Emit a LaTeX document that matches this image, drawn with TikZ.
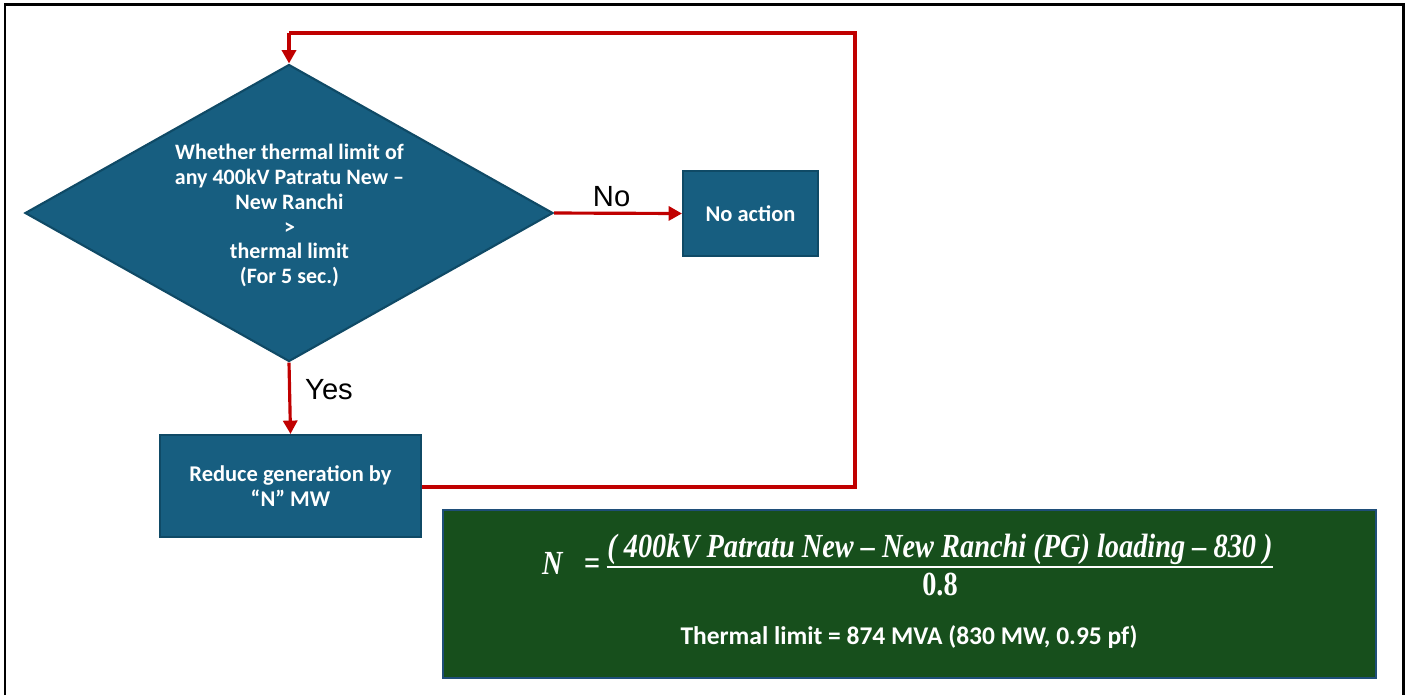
\documentclass[tikz,border=0pt]{standalone}
\usepackage{fontspec}
\usetikzlibrary{shapes.geometric,arrows.meta}
\setmainfont{Carlito}
\newfontfamily\labfont{Liberation Sans}
\newfontfamily\eqfont[FakeStretch=0.84]{Liberation Serif}
\definecolor{boxblue}{HTML}{175E80}
\definecolor{boxedge}{HTML}{0F4A66}
\definecolor{eqgreen}{HTML}{174F1C}
\definecolor{eqedge}{HTML}{1F4E79}
\definecolor{flowred}{HTML}{C00000}
\tikzset{
  blk/.style={draw=boxedge, line width=0.6pt, fill=boxblue, text=white, font=\bfseries\fontsize{6.4}{7.1}\selectfont, align=center, inner sep=0pt},
  flow/.style={draw=flowred, line width=0.9pt, -{Triangle[length=3.8pt,width=4pt]}},
  flowline/.style={draw=flowred, line width=0.9pt},
  lab/.style={font=\labfont\fontsize{8.3}{10}\selectfont, text=black, inner sep=0pt},
  eqtxt/.style={text=white, inner sep=0pt, font=\eqfont\bfseries\itshape\fontsize{9.6}{11}\selectfont}
}
\begin{document}
\begin{tikzpicture}[x=1cm,y=1cm]
\useasboundingbox (0,0) rectangle (14.07,-6.95);
% outer frame (open at the bottom)
\draw[line width=0.85pt, black] (0.05,-6.95) -- (0.05,-0.045) -- (14.03,-0.045) -- (14.03,-6.95);
% decision diamond
\node[shape=diamond, draw=boxedge, line width=0.6pt, fill=boxblue, aspect=1.778, minimum width=5.28cm, minimum height=2.97cm, inner sep=0pt] (dec) at (2.89,-2.13) {};
\node[text=white, font=\bfseries\fontsize{6.25}{7.1}\selectfont, align=center, inner sep=0pt] (dtext) at (2.895,-2.155)
  {Whether thermal limit of\\any 400kV Patratu New –\\New Ranchi\\>\\thermal limit\\(For 5 sec.)};
% boxes
\node[blk, minimum width=1.35cm, minimum height=0.85cm] (noact) at (7.505,-2.135) {No action};
\node[blk, minimum width=2.61cm, minimum height=1.02cm] (reduce) at (2.905,-4.86) {Reduce generation by\\“N” MW};
% formula box
\node[draw=eqedge, line width=0.6pt, fill=eqgreen, minimum width=9.33cm, minimum height=1.68cm, inner sep=0pt] (eq) at (9.095,-5.94) {};
\node[eqtxt, anchor=base] (num) at (9.40,-5.57) {( 400kV Patratu New – New Ranchi (PG) loading – 830 )};
\draw[white, line width=0.5pt] (num.west |- 0,-5.67) coordinate (barl) -- (num.east |- 0,-5.67) coordinate (barr);
\node[eqtxt, anchor=base, font=\eqfont\bfseries\fontsize{9.6}{11}\selectfont] (den) at (9.40,-5.955) {0.8};
\node[eqtxt, anchor=base] (nlhs) at (5.71,-5.745) {N \ \ =};
\node[text=white, font=\bfseries\fontsize{7.25}{8}\selectfont, inner sep=0pt] (eqt) at (9.09,-6.37) {Thermal limit = 874 MVA (830 MW, 0.95 pf)};
% connectors
\draw[flow] (dec.east) -- node[lab, above=1.4pt, pos=0.45] (nolab) {No} (noact.west);
\draw[flow] (dec.south) -- node[lab, right=4pt, pos=0.38] (yeslab) {Yes} (reduce.north);
\coordinate (c1) at (8.55,-4.87);
\coordinate (c2) at (8.55,-0.33);
\coordinate (c3) at (2.89,-0.33);
\draw[flowline] (reduce.east |- c1) -- (c1) -- (c2) -- (c3);
\draw[flow] (c3) -- (dec.north);
\end{tikzpicture}
\end{document}
